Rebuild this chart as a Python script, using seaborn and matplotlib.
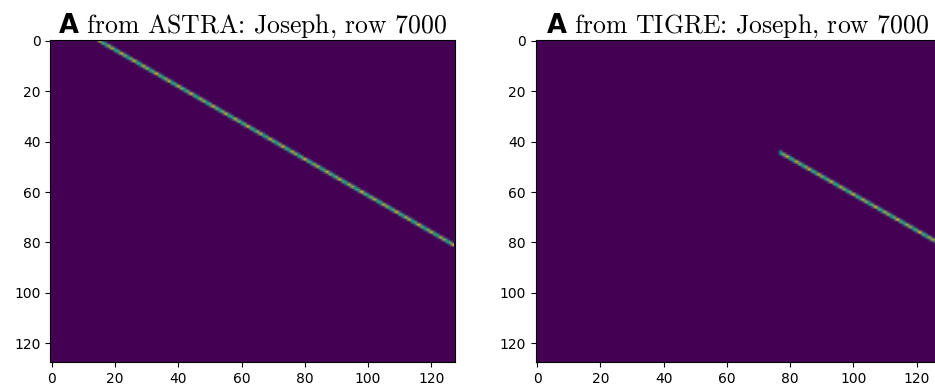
import numpy as np
import matplotlib
matplotlib.use("Agg")
import matplotlib.pyplot as plt
import seaborn as sns

N = 128
titles = ["from ASTRA: Joseph, row 7000", "from TIGRE: Joseph, row 7000"]
# ray entry / exit points (column, row)
start_x = [15, 77]
start_y = [0.0, 44.5]
end_x = [127, 127]
end_y = [81.0, 80.3]
tick_vals = [0, 20, 40, 60, 80, 100, 120]


def joseph_row(x0, y0, x1, y1):
    img = np.zeros((N, N))
    slope = (y1 - y0) / (x1 - x0)
    w = np.sqrt(1 + slope ** 2)
    for col in range(x0, x1 + 1):
        yc = y0 + slope * (col - x0)
        lo = int(np.floor(yc))
        f = yc - lo
        if 0 <= lo < N:
            img[lo, col] += (1 - f) * w
        if 0 <= lo + 1 < N:
            img[lo + 1, col] += f * w
    return img


fig = plt.figure(figsize=(9.35, 3.91), dpi=100)
W, H = 935, 391
lefts = [50.4, 535.7]
aw, top, bot = 404.6, 39.7, 362.0
bg = plt.get_cmap("viridis")(0.0)
for i in range(2):
    ax = fig.add_axes([lefts[i] / W, (H - bot) / H, aw / W, (bot - top) / H])
    img = joseph_row(start_x[i], start_y[i], end_x[i], end_y[i])
    sns.heatmap(img, ax=ax, cmap="viridis", cbar=False, square=False,
                xticklabels=False, yticklabels=False, rasterized=True,
                shading="gouraud")
    ax.set_facecolor(bg)
    ax.set_xlim(-0.5, N - 0.5)
    ax.set_ylim(N - 0.5, -0.5)
    for s in ax.spines.values():
        s.set_visible(True)
        s.set_color("black")
        s.set_linewidth(0.8)
    ax.set_xticks(tick_vals)
    ax.set_xticklabels([str(t) for t in tick_vals], rotation=0, fontsize=10)
    ax.set_yticks(tick_vals)
    ax.set_yticklabels([str(t) for t in tick_vals], rotation=0, fontsize=10)
    ax.tick_params(length=3.5, width=0.8, color="black", labelcolor="black")
    ax.set_xlabel("")
    ax.set_ylabel("")
    ax.set_title(r"$\mathbf{A}$ " + titles[i], fontfamily="cmr10", fontsize=18.5, pad=5)

fig.savefig("out.png", dpi=100)
